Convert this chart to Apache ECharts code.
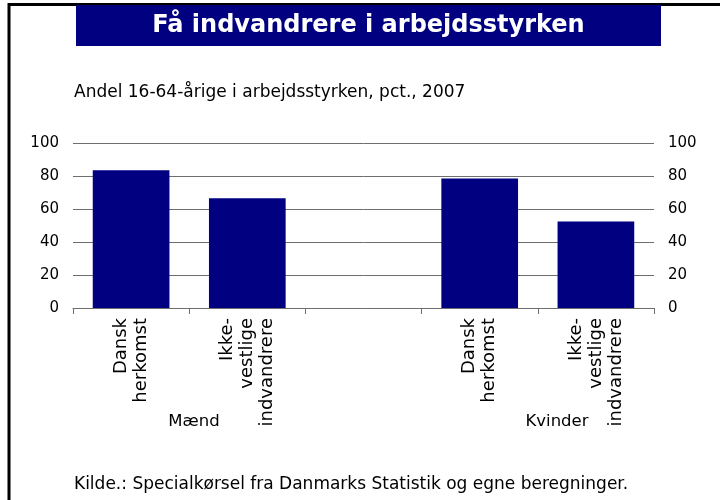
<!DOCTYPE html>
<html>
<head>
<meta charset="utf-8">
<script src="https://cdn.jsdelivr.net/npm/echarts@6/dist/echarts.min.js"></script>
<style>
html,body{margin:0;padding:0;background:#fff;}
#c{width:720px;height:500px;}
</style>
</head>
<body>
<div id="c"></div>
<script>
var categories = ["Dansk\nherkomst", "Ikke-\nvestlige\nindvandrere", "", "Dansk\nherkomst", "Ikke-\nvestlige\nindvandrere"];
var values = [83.5, 66.5, null, 78.5, 52.5];
var yTicks = [0, 20, 40, 60, 80, 100];
var groupLabels = ["Mænd", "Kvinder"];
var titleText = "Få indvandrere i arbejdsstyrken";
var subtitleText = "Andel 16-64-årige i arbejdsstyrken, pct., 2007";
var sourceText = "Kilde.: Specialkørsel fra Danmarks Statistik og egne beregninger.";

var FONT = "DejaVu Sans";
var chart = echarts.init(document.getElementById('c'), null, {renderer: 'canvas'});
var yMin = yTicks[0], yMax = yTicks[yTicks.length - 1], yStep = yTicks[1] - yTicks[0];
function yAxisCfg(pos) {
  return {
    type: 'value', position: pos, min: yMin, max: yMax, interval: yStep,
    axisLine: {show: false}, axisTick: {show: false},
    axisLabel: {color: '#000', fontFamily: FONT, fontSize: 15, margin: 14},
    splitLine: {show: pos === 'left', lineStyle: {color: '#6e6e6e', width: 1}}
  };
}
chart.setOption({
  backgroundColor: '#fff',
  animation: false,
  grid: {left: 73, right: 66, top: 143, bottom: 192},
  xAxis: {
    type: 'category', data: categories,
    axisLine: {lineStyle: {color: '#6e6e6e', width: 1}},
    axisTick: {show: true, alignWithLabel: false, interval: 0, length: 6, lineStyle: {color: '#6e6e6e'}},
    axisLabel: {interval: 0, rotate: 90, color: '#000', fontFamily: FONT, fontSize: 18, lineHeight: 20, margin: 10}
  },
  yAxis: [yAxisCfg('left'), yAxisCfg('right')],
  series: [{
    type: 'bar', data: values, yAxisIndex: 0,
    barCategoryGap: '34%',
    itemStyle: {color: '#000080'}
  }],
  graphic: [
    {type: 'line', shape: {x1: 9, y1: 4.5, x2: 720, y2: 4.5}, style: {stroke: '#000', lineWidth: 3}},
    {type: 'line', shape: {x1: 9, y1: 3, x2: 9, y2: 500}, style: {stroke: '#000', lineWidth: 3}},
    {type: 'rect', shape: {x: 76, y: 5, width: 585, height: 41}, style: {fill: '#000080'}},
    {type: 'text', x: 368.5, y: 25.5, style: {text: titleText, fill: '#fff', font: 'bold 24px "' + FONT + '"', textAlign: 'center', textVerticalAlign: 'middle'}},
    {type: 'text', x: 74, y: 93, style: {text: subtitleText, fill: '#000', font: '17px "' + FONT + '"', textAlign: 'left', textVerticalAlign: 'middle'}},
    {type: 'text', x: 194, y: 422, style: {text: groupLabels[0], fill: '#000', font: '16.5px "' + FONT + '"', textAlign: 'center', textVerticalAlign: 'middle'}},
    {type: 'text', x: 557, y: 422, style: {text: groupLabels[1], fill: '#000', font: '16.5px "' + FONT + '"', textAlign: 'center', textVerticalAlign: 'middle'}},
    {type: 'text', x: 74, y: 485, style: {text: sourceText, fill: '#000', font: '17px "' + FONT + '"', textAlign: 'left', textVerticalAlign: 'middle'}}
  ]
});
</script>
</body>
</html>
